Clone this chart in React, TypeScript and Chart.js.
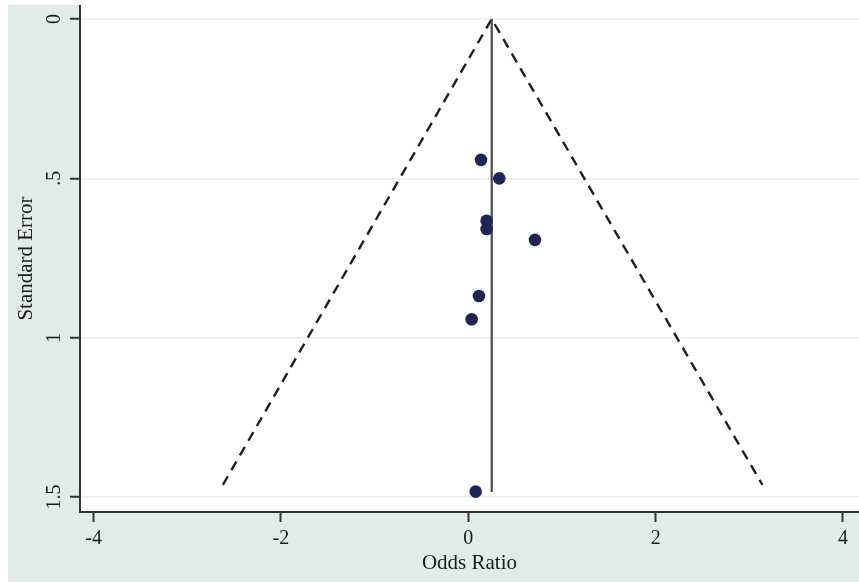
import React, { useEffect, useRef } from "react";
import { Chart, registerables } from "chart.js";

Chart.register(...registerables);

// Study estimates (odds ratio scale as plotted) and their standard errors
const studyOR = [0.136, 0.331, 0.196, 0.196, 0.712, 0.114, 0.036, 0.079];
const studySE = [0.442, 0.5, 0.633, 0.659, 0.693, 0.869, 0.942, 1.483];

// Pooled estimate line
const pooledX = [0.25, 0.25];
const pooledY = [0, 1.484];

// Pseudo 95% confidence limits (funnel)
const funnelX = [-2.62, 0.25, 3.14];
const funnelY = [1.462, 0, 1.462];

// Axis ticks
const xTicks = [-4, -2, 0, 2, 4];
const xTickLabels = ["-4", "-2", "0", "2", "4"];
const yTicks = [0, 0.5, 1, 1.5];
const yTickLabels = ["0", ".5", "1", "1.5"];

const FONT = "'Liberation Serif', 'Times New Roman', serif";
const TEXT = "#1a1a1a";
const AXIS = "#333333";

export default function App() {
  const ref = useRef<HTMLCanvasElement | null>(null);

  useEffect(() => {
    if (!ref.current) return;
    const plotBg = {
      id: "plotBg",
      beforeDraw(chart: any) {
        const { ctx, chartArea: a } = chart;
        ctx.save();
        ctx.fillStyle = "#ffffff";
        ctx.fillRect(a.left, a.top, a.right - a.left, a.bottom - a.top);
        ctx.restore();
      },
    };

    const chart = new Chart(ref.current, {
      type: "scatter",
      data: {
        datasets: [
          {
            label: "Studies",
            data: studyOR.map((x, i) => ({ x, y: studySE[i] })),
            pointRadius: 6.3,
            pointHoverRadius: 6.3,
            backgroundColor: "#1b2656",
            borderColor: "#1b2656",
            borderWidth: 0,
            showLine: false,
          },
          {
            label: "Pooled",
            data: pooledX.map((x, i) => ({ x, y: pooledY[i] })),
            showLine: true,
            pointRadius: 0,
            borderColor: "#4a4a4a",
            borderWidth: 2.2,
          },
          {
            label: "Pseudo 95% CI",
            data: funnelX.map((x, i) => ({ x, y: funnelY[i] })),
            showLine: true,
            pointRadius: 0,
            borderColor: "#1e1e1e",
            borderWidth: 2.4,
            borderDash: [10, 7],
          },
        ],
      },
      options: {
        animation: false,
        responsive: false,
        layout: { padding: 0, autoPadding: false },
        plugins: {
          legend: { display: false },
          tooltip: { enabled: false },
        },
        scales: {
          x: {
            type: "linear",
            min: -4.145,
            max: 4.171,
            afterBuildTicks: (s: any) => {
              s.ticks = xTicks.map((v) => ({ value: v }));
            },
            afterFit: (s: any) => {
              s.height = 70;
              s.paddingLeft = 0;
              s.paddingRight = 0;
            },
            grid: {
              display: true,
              drawOnChartArea: false,
              drawTicks: true,
              tickLength: 10,
              tickColor: AXIS,
              tickWidth: 2,
            },
            border: { display: true, color: AXIS, width: 2 },
            ticks: {
              padding: 5,
              maxRotation: 0,
              minRotation: 0,
              color: TEXT,
              font: { family: FONT, size: 20 },
              callback: (v: any) => {
                const i = xTicks.indexOf(Number(v));
                return i >= 0 ? xTickLabels[i] : "";
              },
            },
            title: {
              display: true,
              text: "Odds Ratio",
              color: TEXT,
              font: { family: FONT, size: 21 },
              padding: { top: 0, bottom: 6 },
            },
          },
          y: {
            type: "linear",
            reverse: true,
            min: -0.0439,
            max: 1.547,
            afterBuildTicks: (s: any) => {
              s.ticks = yTicks.map((v) => ({ value: v }));
            },
            afterFit: (s: any) => {
              s.width = 72;
              s.paddingTop = 0;
              s.paddingBottom = 0;
            },
            grid: {
              display: true,
              drawOnChartArea: true,
              color: "#e6eeee",
              lineWidth: 1.5,
              drawTicks: true,
              tickLength: 10,
              tickColor: AXIS,
              tickWidth: 2,
            },
            border: { display: true, color: AXIS, width: 2 },
            ticks: {
              padding: 3,
              minRotation: 90,
              maxRotation: 90,
              crossAlign: "center",
              color: TEXT,
              font: { family: FONT, size: 20 },
              callback: (v: any) => {
                const i = yTicks.indexOf(Number(v));
                return i >= 0 ? yTickLabels[i] : "";
              },
            },
            title: {
              display: true,
              text: "Standard Error",
              color: TEXT,
              font: { family: FONT, size: 21 },
              padding: { top: 6, bottom: 0 },
            },
          },
        },
      },
      plugins: [plotBg],
    } as any);

    return () => chart.destroy();
  }, []);

  return (
    <div
      style={{
        position: "absolute",
        left: 8,
        top: 5,
        width: 851,
        height: 577,
        background: "#e2eaea",
      }}
    >
      <canvas ref={ref} width={851} height={577} style={{ display: "block" }} />
    </div>
  );
}
